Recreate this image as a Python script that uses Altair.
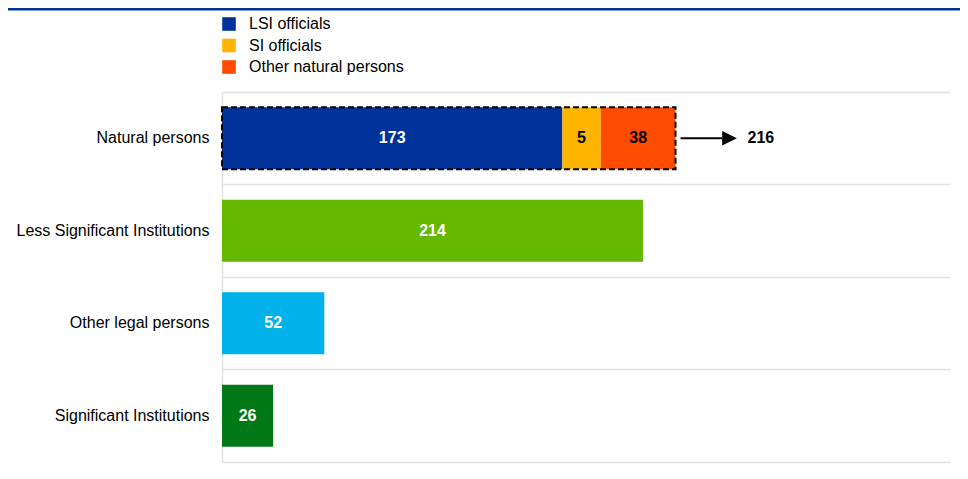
import altair as alt
import pandas as pd

categories = ["Natural persons", "Natural persons", "Natural persons",
              "Less Significant Institutions", "Other legal persons", "Significant Institutions"]
segments = ["LSI officials", "SI officials", "Other natural persons",
            "Less Significant Institutions", "Other legal persons", "Significant Institutions"]
values = [173, 5, 38, 214, 52, 26]
# drawn bar lengths (the small SI segment is drawn wider than its value)
bar_lengths = [173, 19.5, 38, 214, 52, 26]
order = [1, 2, 3, 1, 1, 1]
colors = ["#003299", "#FFB400", "#FF4B00", "#65B800", "#00B1EA", "#007816"]
text_colors = ["white", "black", "black", "white", "white", "white"]
cat_order = ["Natural persons", "Less Significant Institutions", "Other legal persons", "Significant Institutions"]
legend_items = ["LSI officials", "SI officials", "Other natural persons"]

df = pd.DataFrame({"category": categories, "segment": segments, "value": values,
                   "length": bar_lengths, "order": order, "tcolor": text_colors})

FONT = "Liberation Sans, Arial"
FS = 16

y_enc = alt.Y("category:N", sort=cat_order, title=None,
              scale=alt.Scale(paddingInner=0, paddingOuter=0),
              axis=alt.Axis(bandPosition=0, grid=True, gridColor="#e2e2e2", gridWidth=1.5,
                            ticks=False, domainColor="#e2e2e2", domainWidth=1.5,
                            labelFontSize=FS, labelFont=FONT, labelColor="#000000",
                            labelPadding=13, labelLimit=400))
x_scale = alt.Scale(domain=[0, 370], nice=False)
x_axis = alt.Axis(labels=False, ticks=False, grid=False, domainColor="#e2e2e2", domainWidth=1.5, title=None)

base = alt.Chart(df)

bars = base.mark_bar(height={"band": 0.67}).encode(
    y=y_enc,
    x=alt.X("length:Q", stack="zero", scale=x_scale, axis=x_axis),
    color=alt.Color("segment:N",
                    scale=alt.Scale(domain=segments, range=colors),
                    legend=alt.Legend(values=legend_items, title=None)),
    order=alt.Order("order:Q"),
)

labels = base.transform_stack(
    stack="length", groupby=["category"], as_=["x0", "x1"],
    sort=[alt.SortField("order", order="ascending")]
).transform_calculate(mid="(datum.x0 + datum.x1) / 2").mark_text(
    font=FONT, fontSize=FS, fontWeight="bold"
).encode(
    y=alt.Y("category:N", sort=cat_order),
    x=alt.X("mid:Q"),
    text="value:Q",
    color=alt.Color("tcolor:N", scale=None),
)

totals = base.transform_filter(alt.datum.category == "Natural persons").transform_aggregate(
    total="sum(value)", drawn="sum(length)", groupby=["category"])

outline = totals.mark_bar(height={"band": 0.67}, fill="transparent", stroke="black",
                          strokeWidth=2, strokeDash=[6, 3]).encode(
    y=alt.Y("category:N", sort=cat_order),
    x=alt.X("drawn:Q"),
)

arrow_line = totals.mark_rule(color="black", strokeWidth=2, xOffset=5, x2Offset=47).encode(
    y=alt.Y("category:N", sort=cat_order),
    x=alt.X("drawn:Q"),
    x2=alt.X2("drawn:Q"),
)

arrow_head = totals.mark_point(shape="M-1,-1L1,0L-1,1Z", filled=True, color="black",
                               opacity=1, size=215, strokeWidth=0, xOffset=54).encode(
    y=alt.Y("category:N", sort=cat_order),
    x=alt.X("drawn:Q"),
)

total_text = totals.mark_text(font=FONT, fontSize=FS, fontWeight="bold", align="left",
                              color="black", xOffset=72).encode(
    y=alt.Y("category:N", sort=cat_order),
    x=alt.X("drawn:Q"),
    text="total:Q",
)

top_line = alt.Chart(pd.DataFrame({"a": [0]})).mark_rule(color="#003299", strokeWidth=3).encode(
    x=alt.value(-214), x2=alt.value(746), y=alt.value(-83)
)

chart = alt.layer(bars, outline, labels, arrow_line, arrow_head, total_text, top_line).properties(
    width=728, height=370,
    autosize=alt.AutoSizeParams(type="none"),
    padding={"left": 214, "top": 84, "right": 10, "bottom": 9},
).configure_view(stroke=None).configure_legend(
    orient="none", legendX=-1, legendY=-76, symbolType="square", symbolSize=185,
    symbolStrokeWidth=0, labelFontSize=FS, labelFont=FONT, labelColor="#000000",
    rowPadding=5.5, labelOffset=12, padding=0,
)

chart.save("out.html", embed_options={"renderer": "svg", "actions": False})
